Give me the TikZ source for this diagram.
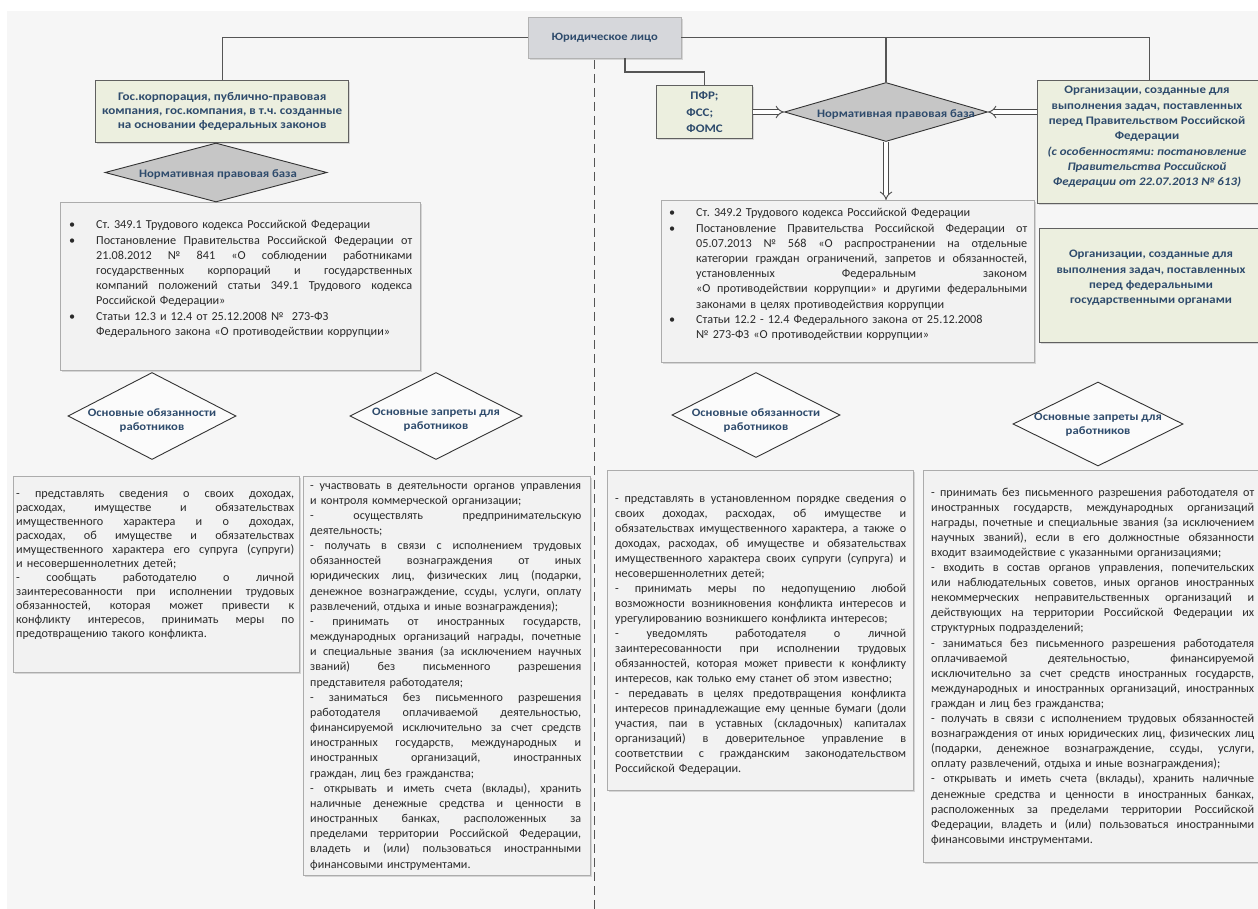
\documentclass[tikz,border=0pt]{standalone}
\usepackage{fontspec}
\setmainfont{Carlito}
\newfontfamily\hdf[FakeStretch=1.12]{Carlito}
\usetikzlibrary{shapes.geometric,arrows.meta,shadows}
\definecolor{bgc}{HTML}{F6F6F6}
\definecolor{hdc}{HTML}{2E4B6C}
\definecolor{txc}{HTML}{2A2A2A}
\definecolor{grc}{HTML}{ECEFDF}
\definecolor{lnc}{HTML}{555555}
\definecolor{bxc}{HTML}{F2F2F2}
\definecolor{yuc}{HTML}{D6D7DB}
\definecolor{dmc}{HTML}{C6C6C6}
\frenchspacing
\newlength\mybind
\setlength\mybind{27pt}
\newlength\mytw
\newcommand\mysp{\spaceskip=0.226em plus 1fil minus 0.06em\relax}
\newcommand\myJ[1]{\leavevmode\hbox to\mytw{\mysp#1}\\}
\newcommand\myBF[1]{\leavevmode\hbox to\mybind{\textbullet\hss}#1\\}
\newcommand\myBFJ[1]{\leavevmode\hbox to\mybind{\textbullet\hss}\hbox to\dimexpr\mytw-\mybind\relax{\mysp#1}\\}
\newcommand\myBJ[1]{\leavevmode\hspace*{\mybind}\hbox to\dimexpr\mytw-\mybind\relax{\mysp#1}\\}
\newcommand\myBL[1]{\leavevmode\hspace*{\mybind}#1\\}
\begin{document}
\begin{tikzpicture}[x=1pt,y=-1pt,
  conn/.style={draw=lnc, line width=1.1pt},
  dconn/.style={draw=lnc, line width=1pt, dash pattern=on 9pt off 5pt},
  harrow/.style={draw=gray!60!black, double=white, double distance=3.5pt, line width=0.9pt, -{Implies[scale=1.3]}},
  shad/.style={drop shadow={shadow xshift=1.5pt, shadow yshift=-1.5pt, fill=black!25, opacity=0.6}},
  panel/.style={draw=gray!65, line width=0.8pt, fill=bxc, shad, inner sep=0pt, anchor=north west},
  gpanel/.style={draw=gray!75!black, line width=1.3pt, fill=grc, shad, inner sep=0pt, anchor=north west, align=center, text=hdc, font=\hdf\bfseries\fontsize{11.7}{14}\selectfont},
  body/.style={inner sep=0pt, align=left, text=txc, anchor=base west, font=\fontsize{12.2}{15.2}\selectfont},
  npbd/.style={diamond, draw=black!80, line width=0.9pt, fill=dmc, inner sep=0pt},
  catd/.style={diamond, draw=black!80, line width=0.9pt, fill=white!60!bgc, inner sep=0pt},
  hd/.style={text=hdc, font=\hdf\bfseries\fontsize{11.4}{14}\selectfont, align=center, inner sep=0pt}
]
\useasboundingbox (0,0) rectangle (1258,909);
\fill[white] (0,0) rectangle (1258,909);
\fill[bgc] (7,11) rectangle (1258,909);

% top node
\node[draw=gray!60, fill=yuc, shad, minimum width=153pt, minimum height=41pt, anchor=north west, inner sep=0pt, hd, font=\hdf\bfseries\fontsize{11.2}{14}\selectfont] (yur) at (528,17) {Юридическое лицо};

% green boxes
\node[gpanel, minimum width=253pt, minimum height=62pt] (gos) at (95,80) {Гос.корпорация, публично-правовая\\компания, гос.компания, в т.ч. созданные\\на основании федеральных законов};
\node[gpanel, minimum width=96pt, minimum height=53pt, align=left, font=\hdf\bfseries\fontsize{11.6}{16.5}\selectfont] (pfr) at (656,85) {\hspace*{4pt}ПФР;\\ФСС;\\ФОМС};
\node[gpanel, minimum width=223pt, minimum height=123pt] (org1) at (1037,80) {};
\node[hd, font=\hdf\bfseries\fontsize{11.5}{15.3}\selectfont] (org1t) at (1147,137) {Организации, созданные для\\выполнения задач, поставленных\\перед Правительством Российской\\Федерации\\\textit{(с особенностями: постановление}\\\textit{Правительства Российской}\\\textit{Федерации от 22.07.2013 № 613)}};
\node[gpanel, minimum width=226pt, minimum height=114pt] (org2) at (1039,228) {};
\node[hd, font=\hdf\bfseries\fontsize{11.4}{15.3}\selectfont] (org2t) at (1151,278) {Организации, созданные для\\выполнения задач, поставленных\\перед федеральными\\государственными органами};

% connectors
\draw[conn] (yur.west) -| (gos.north);
\draw[conn] (yur.east) -| (org1.north);
\coordinate (jR) at (886,37.5);
\coordinate (ys) at (625,58);
\coordinate (yk) at (625,72);
\draw[conn] (ys) -- (yk) -| (pfr.north);
\coordinate (dtop) at (594,60);
\coordinate (dbot) at (594,909);
\draw[dconn] (dtop) -- (dbot);

% panels
\node[panel, minimum width=360pt, minimum height=168pt] (lnpb) at (60,202) {};
\node[panel, minimum width=373pt, minimum height=162pt] (rnpb) at (661,200) {};
\node[panel, minimum width=286pt, minimum height=196pt] (b1) at (13,476) {};
\node[panel, minimum width=287pt, minimum height=399pt] (b2) at (303,476) {};
\node[panel, minimum width=306pt, minimum height=320pt] (b3) at (607,470) {};
\node[panel, minimum width=345pt, minimum height=392pt] (b4) at (923,470) {};

% diamonds
\node[npbd, minimum width=222pt, minimum height=59pt] (npbL) at (216,172.5) {};
\node[hd] (npbLt) at (218,174) {Нормативная правовая база};
\node[npbd, minimum width=203pt, minimum height=59pt] (npbR) at (886,112) {};
\node[hd] (npbRt) at (896,114) {Нормативная правовая база};
\draw[conn] (jR) -- (npbR.north);

\node[catd, minimum width=168pt, minimum height=87pt] (d1) at (152,416) {};
\node[hd, font=\hdf\bfseries\fontsize{11.3}{14}\selectfont] (d1t) at (152,420) {Основные обязанности\\работников};
\node[catd, minimum width=172pt, minimum height=87pt] (d2) at (436,416) {};
\node[hd, font=\hdf\bfseries\fontsize{11.3}{14}\selectfont] (d2t) at (436,420) {Основные запреты для\\работников};
\node[catd, minimum width=168pt, minimum height=85pt] (d3) at (756,415) {};
\node[hd, font=\hdf\bfseries\fontsize{11.3}{14}\selectfont] (d3t) at (756,420) {Основные обязанности\\работников};
\node[catd, minimum width=170pt, minimum height=84pt] (d4) at (1098,424) {};
\node[hd, font=\hdf\bfseries\fontsize{11.3}{14}\selectfont] (d4t) at (1098,425) {Основные запреты для\\работников};

% hollow arrows
\draw[harrow] (pfr.east |- npbR.west) -- (npbR.west);
\draw[harrow] (org1.west |- npbR.east) -- (npbR.east);
\draw[harrow] (npbR.south) -- (npbR.south |- rnpb.north);

% texts
\node[body, text width=343pt] (lnpbt) at (69,229) {\setlength\mytw{343pt}%
\myBF{Ст. 349.1 Трудового кодекса Российской Федерации}
\myBFJ{Постановление Правительства Российской Федерации от}
\myBJ{21.08.2012 № 841 «О соблюдении работниками}
\myBJ{государственных корпораций и государственных}
\myBJ{компаний положений статьи 349.1 Трудового кодекса}
\myBL{Российской Федерации»}
\myBF{Статьи 12.3 и 12.4 от 25.12.2008 № \ 273-ФЗ}
\myBL{Федерального закона «О противодействии коррупции»}};

\node[body, text width=358pt] (rnpbt) at (669,217) {\setlength\mytw{358pt}%
\myBF{Ст. 349.2 Трудового кодекса Российской Федерации}
\myBFJ{Постановление Правительства Российской Федерации от}
\myBJ{05.07.2013 № 568 «О распространении на отдельные}
\myBJ{категории граждан ограничений, запретов и обязанностей,}
\myBJ{установленных Федеральным законом}
\myBJ{«О противодействии коррупции» и другими федеральными}
\myBL{законами в целях противодействия коррупции}
\myBF{Статьи 12.2 - 12.4 Федерального закона от 25.12.2008}
\myBL{№ 273-ФЗ «О противодействии коррупции»}};

\node[body, text width=278pt, font=\fontsize{12.2}{14}\selectfont] (b1t) at (16,497) {\setlength\mytw{278pt}%
\myJ{- представлять сведения о своих доходах,}
\myJ{расходах, имуществе и обязательствах}
\myJ{имущественного характера и о доходах,}
\myJ{расходах, об имуществе и обязательствах}
\myJ{имущественного характера его супруга (супруги)}
и несовершеннолетних детей;\\
\myJ{- сообщать работодателю о личной}
\myJ{заинтересованности при исполнении трудовых}
\myJ{обязанностей, которая может привести к}
\myJ{конфликту интересов, принимать меры по}
предотвращению такого конфликта.};

\node[body, text width=271pt, font=\fontsize{12.1}{15.16}\selectfont] (b2t) at (310,489) {\setlength\mytw{271pt}%
\myJ{- участвовать в деятельности органов управления}
и контроля коммерческой организации;\\
\myJ{- осуществлять предпринимательскую}
деятельность;\\
\myJ{- получать в связи с исполнением трудовых}
\myJ{обязанностей вознаграждения от иных}
\myJ{юридических лиц, физических лиц (подарки,}
\myJ{денежное вознаграждение, ссуды, услуги, оплату}
развлечений, отдыха и иные вознаграждения);\\
\myJ{- принимать от иностранных государств,}
\myJ{международных организаций награды, почетные}
\myJ{и специальные звания (за исключением научных}
\myJ{званий) без письменного разрешения}
представителя работодателя;\\
\myJ{- заниматься без письменного разрешения}
\myJ{работодателя оплачиваемой деятельностью,}
\myJ{финансируемой исключительно за счет средств}
\myJ{иностранных государств, международных и}
\myJ{иностранных организаций, иностранных}
граждан, лиц без гражданства;\\
\myJ{- открывать и иметь счета (вклады), хранить}
\myJ{наличные денежные средства и ценности в}
\myJ{иностранных банках, расположенных за}
\myJ{пределами территории Российской Федерации,}
\myJ{владеть и (или) пользоваться иностранными}
финансовыми инструментами.};

\node[body, text width=291pt, font=\fontsize{12.2}{15.0}\selectfont] (b3t) at (615,502) {\setlength\mytw{291pt}%
\myJ{- представлять в установленном порядке сведения о}
\myJ{своих доходах, расходах, об имуществе и}
\myJ{обязательствах имущественного характера, а также о}
\myJ{доходах, расходах, об имуществе и обязательствах}
\myJ{имущественного характера своих супруги (супруга) и}
несовершеннолетних детей;\\
\myJ{- принимать меры по недопущению любой}
\myJ{возможности возникновения конфликта интересов и}
урегулированию возникшего конфликта интересов;\\
\myJ{- уведомлять работодателя о личной}
\myJ{заинтересованности при исполнении трудовых}
\myJ{обязанностей, которая может привести к конфликту}
интересов, как только ему станет об этом известно;\\
\myJ{- передавать в целях предотвращения конфликта}
\myJ{интересов принадлежащие ему ценные бумаги (доли}
\myJ{участия, паи в уставных (складочных) капиталах}
\myJ{организаций) в доверительное управление в}
\myJ{соответствии с гражданским законодательством}
Российской Федерации.};

\node[body, text width=323pt, font=\fontsize{12.2}{15.1}\selectfont] (b4t) at (931,496) {\setlength\mytw{323pt}%
\myJ{- принимать без письменного разрешения работодателя от}
\myJ{иностранных государств, международных организаций}
\myJ{награды, почетные и специальные звания (за исключением}
\myJ{научных званий), если в его должностные обязанности}
входит взаимодействие с указанными организациями;\\
\myJ{- входить в состав органов управления, попечительских}
\myJ{или наблюдательных советов, иных органов иностранных}
\myJ{некоммерческих неправительственных организаций и}
\myJ{действующих на территории Российской Федерации их}
структурных подразделений;\\
\myJ{- заниматься без письменного разрешения работодателя}
\myJ{оплачиваемой деятельностью, финансируемой}
\myJ{исключительно за счет средств иностранных государств,}
\myJ{международных и иностранных организаций, иностранных}
граждан и лиц без гражданства;\\
\myJ{- получать в связи с исполнением трудовых обязанностей}
\myJ{вознаграждения от иных юридических лиц, физических лиц}
\myJ{(подарки, денежное вознаграждение, ссуды, услуги,}
оплату развлечений, отдыха и иные вознаграждения);\\
\myJ{- открывать и иметь счета (вклады), хранить наличные}
\myJ{денежные средства и ценности в иностранных банках,}
\myJ{расположенных за пределами территории Российской}
\myJ{Федерации, владеть и (или) пользоваться иностранными}
финансовыми инструментами.};
\end{tikzpicture}
\end{document}
